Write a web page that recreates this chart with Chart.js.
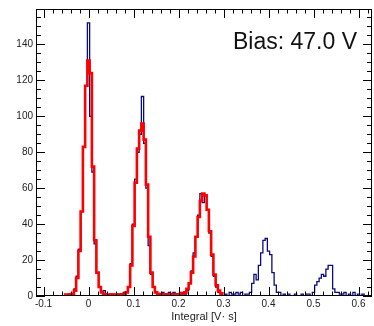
<!DOCTYPE html>
<html>
<head>
<meta charset="utf-8">
<script src="https://cdn.jsdelivr.net/npm/chart.js@4.4.1/dist/chart.umd.min.js"></script>
<style>
  body { margin: 0; background: #fff; }
  #wrap { width: 374px; height: 326px; }
</style>
</head>
<body>
<div id="wrap"><canvas id="histChart" width="374" height="326"></canvas></div>
<script>
// bins are 0.005 V·s wide, values given per bin centre
var binWidth = 0.005;
var measuredStart = -0.04;
var fitStart = -0.055;

// measured spectrum (counts), centres -0.040 ... 0.625
var measuredCounts = [
  0, 1, 4, 11, 26, 47, 83, 117, 152, 100,   // -0.040
  69, 29, 13, 5, 2, 3, 1, 0, 1, 1,          // 0.010
  0, 1, 1, 1, 2, 2, 5, 18, 40, 65,          // 0.060
  80, 90, 111, 85, 60, 28, 12, 5, 2, 0,     // 0.110
  1, 2, 1, 1, 2, 1, 2, 1, 1, 2,             // 0.160
  1, 1, 3, 7, 14, 24, 33, 45, 57, 52,       // 0.210
  56, 48, 35, 22, 11, 5, 2, 1, 0, 1,        // 0.260
  0, 2, 1, 1, 2, 1, 2, 0, 1, 1,             // 0.310
  2, 7, 12, 9, 17, 24, 31, 32, 25, 23,      // 0.360
  13, 6, 2, 2, 0, 1, 0, 1, 0, 0,            // 0.410
  1, 0, 0, 1, 0, 1, 1, 0, 2, 6,             // 0.460
  8, 10, 12, 11, 15, 17, 17, 4, 2, 2,       // 0.510
  1, 1, 2, 0, 1, 0, 2, 0, 1, 0,             // 0.560
  1, 0, 0, 0                                // 0.610
];

// multi-peak fit, centres -0.055 ... 0.300
var fitCounts = [
  0.8, 0.8, 0.8, 0.9, 1.2, 3, 10, 25, 47, 83,       // -0.055
  117, 131, 124, 72, 31, 13, 5, 2, 1, 0.8,          // -0.005
  0.8, 0.8, 0.8, 0.8, 0.8, 0.8, 0.9, 1.2, 2, 5,     // 0.045
  17, 39, 63, 82, 92, 96, 87, 62, 33, 13,           // 0.095
  5, 2, 1.2, 1, 1, 1, 1, 1, 1, 1,                   // 0.145
  1, 1, 1.2, 1.5, 2, 4, 7, 13, 22, 33,              // 0.195
  44, 53, 57, 56, 48, 36, 23, 12, 6, 3,             // 0.245
  1.5, 1                                            // 0.295
];

var xTicks = [-0.1, 0, 0.1, 0.2, 0.3, 0.4, 0.5, 0.6];
var yTicks = [0, 20, 40, 60, 80, 100, 120, 140];
var xTitle = 'Integral [V· s]';
var biasLabel = 'Bias: 47.0 V';

var FONT = '"Liberation Sans", Arial, Helvetica, sans-serif';

function toPoints(start, counts) {
  return counts.map(function (v, i) {
    return { x: Math.round((start + i * binWidth) * 10000) / 10000, y: v };
  });
}

// ROOT style frame: box with inward ticks on all four sides + label
var framePlugin = {
  id: 'frame',
  afterDatasetsDraw: function (chart) {
    var c = chart.ctx, a = chart.chartArea;
    var sx = chart.scales.x, sy = chart.scales.y;
    c.save();
    c.strokeStyle = '#000';
    c.lineWidth = 1;
    c.strokeRect(a.left + 0.5, a.top + 0.5, a.right - a.left - 1, a.bottom - a.top - 1);
    c.beginPath();
    for (var k = -5; k <= 31; k++) {
      var v = k * 0.02;
      if (v < sx.min || v > sx.max) continue;
      var px = Math.round(sx.getPixelForValue(v)) + 0.5;
      var len = (k % 5 === 0) ? 9 : 4.5;
      c.moveTo(px, a.bottom); c.lineTo(px, a.bottom - len);
      c.moveTo(px, a.top); c.lineTo(px, a.top + len);
    }
    for (var j = 0; j <= 31; j++) {
      var w = j * 5;
      if (w > sy.max) continue;
      var py = Math.round(sy.getPixelForValue(w)) + 0.5;
      var l2 = (j % 4 === 0) ? 9 : 5;
      c.moveTo(a.left, py); c.lineTo(a.left + l2, py);
      c.moveTo(a.right, py); c.lineTo(a.right - l2, py);
    }
    c.stroke();
    c.fillStyle = '#111';
    c.font = '23px ' + FONT;
    c.textAlign = 'right';
    c.textBaseline = 'alphabetic';
    c.fillText(biasLabel, a.right - 15, a.top + 40);
    c.restore();
  }
};

var ctx = document.getElementById('histChart').getContext('2d');

var histChart = new Chart(ctx, {
  type: 'line',
  data: {
    datasets: [{
      label: 'fit',
      data: toPoints(fitStart, fitCounts),
      borderColor: 'rgb(255, 0, 0)',
      borderWidth: 2.6,
      stepped: 'middle',
      pointRadius: 0,
      fill: false,
      order: 0
    }, {
      label: 'data',
      data: toPoints(measuredStart, measuredCounts),
      borderColor: 'rgb(10, 10, 130)',
      borderWidth: 1.3,
      stepped: 'middle',
      pointRadius: 0,
      fill: false,
      order: 1
    }]
  },
  options: {
    responsive: false,
    animation: false,
    layout: { padding: { top: 4, right: 2, left: 0, bottom: 0 } },
    plugins: {
      legend: { display: false },
      tooltip: { enabled: false }
    },
    scales: {
      x: {
        type: 'linear',
        min: -0.1167,
        max: 0.63,
        afterBuildTicks: function (s) { s.ticks = xTicks.map(function (v) { return { value: v }; }); },
        afterFit: function (s) { s.height = 30; },
        grid: { display: false, drawTicks: false },
        border: { display: false },
        ticks: {
          padding: 2,
          maxRotation: 0,
          color: '#222',
          font: { family: FONT, size: 10 },
          callback: function (v) { return String(v); }
        },
        title: {
          display: true,
          text: xTitle,
          color: '#222',
          font: { family: FONT, size: 11 },
          padding: { top: 0, bottom: 2 }
        }
      },
      y: {
        min: 0,
        max: 159.7,
        afterBuildTicks: function (s) { s.ticks = yTicks.map(function (v) { return { value: v }; }); },
        afterFit: function (s) { s.width = 36; },
        grid: { display: false, drawTicks: false },
        border: { display: false },
        ticks: {
          padding: 3,
          color: '#222',
          font: { family: FONT, size: 10 },
          callback: function (v) { return String(v); }
        }
      }
    }
  },
  plugins: [framePlugin]
});
</script>
</body>
</html>
